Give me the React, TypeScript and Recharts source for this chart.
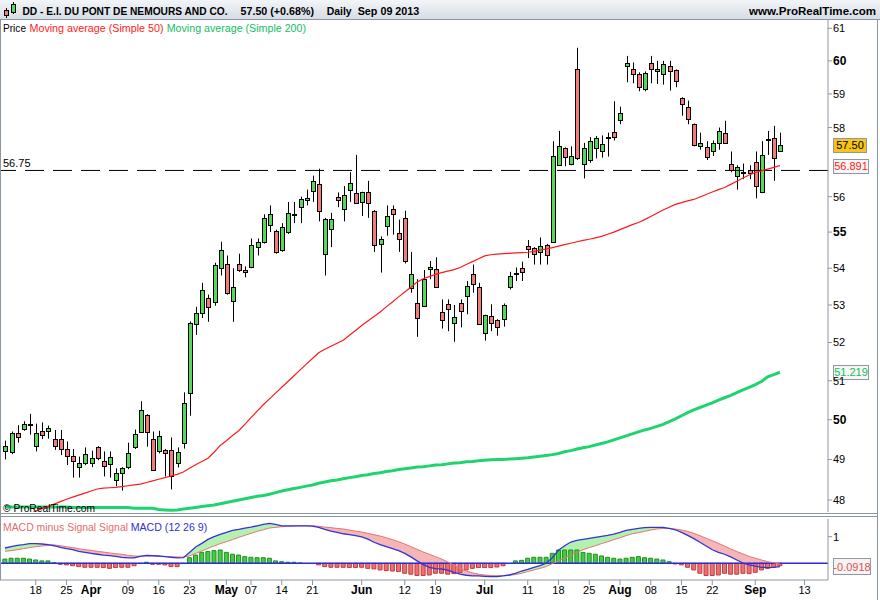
import React from "react";
import {
  Area,
  Bar,
  Cell,
  ComposedChart,
  Line,
  ReferenceLine,
  XAxis,
  YAxis,
} from "recharts";

const FONT = "'Liberation Sans', Arial, Helvetica, sans-serif";
const AXIS = "#8a96a2";
const UP = "#58d858";
const DOWN = "#f07c7c";

// daily sessions Mar 11 .. Sep 09 2013 (index = session number)
const opens = [
  49.21, 49.18, 49.67, 49.76, 49.88, 49.33, 49.72, 49.72, 49.52, 49.5,
  49.26, 49.09, 48.81, 48.91, 48.91, 49.31, 48.95, 48.88, 48.5, 48.66,
  48.81, 49.3, 49.7, 50.12, 49.52, 49.2, 49.23, 49.23, 48.91, 49.42,
  50.69, 52.5, 52.78, 53.2, 53.08, 54.0, 54.12, 53.1, 54.12, 53.95,
  54.03, 54.58, 54.72, 55.2, 55.02, 54.5, 55.0, 55.52, 55.7, 55.9,
  56.15, 56.35, 54.38, 55.08, 56.0, 55.65, 56.18, 56.1, 55.85, 56.12,
  55.6, 54.68, 55.18, 55.65, 54.97, 55.4, 53.45, 53.05, 52.97, 53.97,
  53.97, 52.8, 53.02, 52.53, 53.05, 53.25, 53.85, 53.5, 52.25, 52.7,
  52.6, 52.62, 53.5, 53.85, 54.0, 54.62, 54.56, 54.45, 54.65, 54.72,
  56.9, 57.4, 56.95, 59.75, 56.95, 57.05, 57.4, 57.3, 57.7, 57.88,
  58.22, 59.84, 59.75, 59.6, 59.15, 59.92, 59.7, 59.6, 59.85, 59.72,
  58.88, 58.6, 58.1, 57.45, 57.42, 57.32, 57.55, 57.85, 56.95, 56.6,
  56.68, 56.76, 57.0, 56.13, 57.65, 57.7, 57.32,
];
const highs = [
  49.47, 49.7, 49.86, 49.96, 50.15, 49.9, 49.93, 49.85, 49.74, 49.74,
  49.45, 49.26, 49.07, 49.3, 49.22, 49.33, 49.2, 49.2, 48.78, 48.81,
  49.42, 49.75, 50.47, 50.14, 49.7, 49.72, 49.26, 49.55, 49.3, 50.7,
  52.56, 52.95, 53.6, 53.28, 54.15, 54.73, 54.35, 54.0, 54.4, 54.05,
  54.82, 54.82, 55.5, 55.75, 55.07, 55.25, 55.85, 55.85, 56.0, 56.2,
  56.6, 56.8, 55.4, 55.54, 56.12, 56.3, 56.7, 57.2, 56.14, 56.45,
  55.62, 54.88, 55.75, 55.75, 55.35, 55.6, 54.45, 53.7, 53.95, 54.2,
  54.3, 53.15, 53.15, 53.0, 53.15, 53.65, 54.1, 53.6, 52.74, 53.02,
  52.62, 53.04, 53.9, 54.02, 54.18, 54.78, 54.58, 54.85, 54.67, 57.6,
  57.9, 57.42, 57.45, 60.4, 57.55, 57.72, 57.75, 57.77, 57.85, 58.78,
  58.62, 60.15, 59.95, 59.65, 59.68, 60.15, 60.0, 60.0, 60.0, 59.74,
  58.9, 58.8, 58.12, 57.85, 57.6, 57.62, 58.0, 58.2, 57.3, 56.9,
  56.95, 56.9, 57.3, 57.6, 57.9, 58.05, 57.85,
];
const lows = [
  49.0, 49.13, 49.42, 49.72, 49.62, 49.2, 49.51, 49.52, 49.24, 49.11,
  48.86, 48.55, 48.55, 48.86, 48.81, 48.98, 48.58, 48.55, 48.34, 48.23,
  48.76, 49.26, 49.68, 49.32, 48.72, 49.15, 48.58, 48.26, 48.8, 49.27,
  50.1, 52.2, 52.65, 52.55, 52.98, 53.8, 53.28, 52.55, 53.9, 53.75,
  54.0, 54.35, 54.68, 55.0, 54.4, 54.45, 54.95, 55.25, 55.25, 55.75,
  55.85, 55.3, 53.8, 54.58, 55.7, 55.3, 55.85, 55.8, 55.45, 55.4,
  54.45, 53.88, 54.9, 54.93, 54.45, 54.13, 53.33, 52.15, 52.95, 53.7,
  53.46, 52.37, 52.3, 52.02, 52.4, 52.75, 53.33, 52.48, 52.05, 52.3,
  52.18, 52.42, 53.42, 53.65, 53.65, 54.28, 54.1, 54.1, 54.1, 54.7,
  56.88, 56.87, 56.9, 57.05, 56.52, 56.97, 57.1, 57.12, 57.15, 57.62,
  58.1, 59.35, 59.32, 59.08, 59.08, 59.32, 59.3, 59.28, 59.1, 59.2,
  58.35, 58.1, 57.45, 57.35, 57.05, 57.17, 57.35, 57.53, 56.7, 56.2,
  56.5, 56.5, 55.95, 56.1, 57.2, 56.45, 57.3,
];
const closes = [
  49.34, 49.67, 49.56, 49.9, 49.89, 49.67, 49.62, 49.8, 49.33, 49.26,
  49.09, 48.95, 48.92, 49.14, 49.03, 49.03, 48.84, 49.05, 48.66, 48.78,
  49.15, 49.64, 50.24, 49.7, 48.75, 49.58, 49.15, 48.6, 49.18, 50.42,
  52.51, 52.78, 53.4, 52.95, 54.1, 54.5, 53.32, 53.5, 53.95, 53.9,
  54.65, 54.72, 55.4, 55.5, 54.45, 55.15, 55.55, 55.5, 55.92, 55.95,
  56.45, 55.6, 55.36, 55.36, 55.9, 56.05, 56.4, 55.83, 56.12, 55.83,
  54.65, 54.82, 55.45, 55.5, 54.8, 54.2, 53.85, 52.66, 53.7, 54.03,
  53.48, 52.6, 52.9, 52.68, 52.85, 53.52, 53.57, 52.5, 52.72, 52.52,
  52.4, 53.0, 53.78, 53.86, 53.9, 54.52, 54.4, 54.62, 54.35, 57.18,
  57.45, 57.15, 57.18, 57.1, 57.4, 57.6, 57.7, 57.52, 57.72, 57.72,
  58.43, 59.92, 59.6, 59.2, 59.62, 59.75, 59.75, 59.9, 59.7, 59.38,
  58.7, 58.25, 57.5, 57.55, 57.15, 57.55, 57.9, 57.55, 56.75, 56.85,
  56.7, 56.68, 56.3, 57.2, 57.66, 57.1, 57.5,
];

const sma50 = [
  null, null, null, null, 47.66, 47.73, 47.79, 47.84, 47.9, 47.96,
  48.02, 48.07, 48.12, 48.17, 48.22, 48.27, 48.29, 48.3, 48.31, 48.33,
  48.35, 48.37, 48.39, 48.43, 48.47, 48.51, 48.55, 48.59, 48.63, 48.69,
  48.78, 48.87, 48.95, 49.03, 49.18, 49.35, 49.47, 49.6, 49.72, 49.88,
  50.05, 50.22, 50.38, 50.53, 50.68, 50.83, 50.98, 51.13, 51.28, 51.43,
  51.58, 51.73, 51.82, 51.9, 51.98, 52.06, 52.19, 52.32, 52.45, 52.57,
  52.69, 52.81, 52.95, 53.08, 53.22, 53.35, 53.48, 53.62, 53.71, 53.77,
  53.83, 53.88, 53.92, 53.96, 54.02, 54.1, 54.18, 54.26, 54.34, 54.37,
  54.39, 54.4, 54.41, 54.42, 54.43, 54.44, 54.46, 54.5, 54.53, 54.57,
  54.61, 54.65, 54.69, 54.73, 54.77, 54.8, 54.84, 54.88, 54.94, 55.0,
  55.07, 55.14, 55.21, 55.27, 55.35, 55.44, 55.53, 55.62, 55.7, 55.78,
  55.83, 55.88, 55.92, 55.99, 56.06, 56.13, 56.2, 56.26, 56.35, 56.44,
  56.53, 56.62, 56.69, 56.74, 56.79, 56.84, 56.891,
];
const sma200 = [
  47.83, 47.83, 47.83, 47.83, 47.83, 47.83, 47.83, 47.83, 47.83, 47.83,
  47.83, 47.82, 47.82, 47.82, 47.82, 47.82, 47.82, 47.82, 47.82, 47.82,
  47.82, 47.8, 47.8, 47.8, 47.8, 47.77, 47.76, 47.75, 47.76, 47.78,
  47.8, 47.82, 47.84, 47.86, 47.88, 47.91, 47.94, 47.97, 48.0, 48.03,
  48.06, 48.09, 48.11, 48.14, 48.18, 48.22, 48.25, 48.28, 48.31, 48.34,
  48.37, 48.41, 48.44, 48.47, 48.49, 48.52, 48.55, 48.57, 48.6, 48.62,
  48.65, 48.67, 48.7, 48.72, 48.75, 48.77, 48.79, 48.81, 48.82, 48.84,
  48.86, 48.87, 48.89, 48.91, 48.92, 48.94, 48.95, 48.97, 48.98, 48.99,
  49.0, 49.0, 49.01, 49.02, 49.03, 49.04, 49.06, 49.08, 49.1, 49.12,
  49.15, 49.19, 49.22, 49.26, 49.29, 49.32, 49.36, 49.4, 49.44, 49.49,
  49.54, 49.59, 49.64, 49.69, 49.74, 49.78, 49.83, 49.88, 49.95, 50.02,
  50.1, 50.18, 50.25, 50.31, 50.37, 50.43, 50.5, 50.56, 50.62, 50.69,
  50.76, 50.83, 50.9, 50.98, 51.1, 51.16, 51.219,
];

const macdLine = [
  0.575, 0.625, 0.675, 0.7, 0.74, 0.74, 0.725, 0.7, 0.66, 0.6,
  0.55, 0.51, 0.45, 0.41, 0.375, 0.34, 0.31, 0.29, 0.26, 0.225,
  0.2, 0.2, 0.26, 0.3, 0.29, 0.275, 0.25, 0.225, 0.2, 0.21,
  0.41, 0.61, 0.75, 0.9, 1.0, 1.09, 1.16, 1.24, 1.275, 1.325,
  1.36, 1.41, 1.46, 1.5, 1.46, 1.41, 1.41, 1.41, 1.41, 1.41,
  1.4, 1.35, 1.275, 1.21, 1.16, 1.11, 1.075, 1.04, 0.99, 0.91,
  0.79, 0.7, 0.625, 0.55, 0.475, 0.375, 0.24, 0.09, -0.05, -0.15,
  -0.2, -0.215, -0.26, -0.34, -0.41, -0.45, -0.475, -0.475, -0.49, -0.5,
  -0.5, -0.475, -0.44, -0.375, -0.29, -0.225, -0.15, -0.09, 0.0, 0.21,
  0.49, 0.66, 0.8, 0.86, 0.9, 0.94, 0.975, 1.01, 1.05, 1.1,
  1.16, 1.24, 1.275, 1.31, 1.34, 1.35, 1.35, 1.35, 1.31, 1.26,
  1.16, 1.05, 0.925, 0.79, 0.65, 0.51, 0.41, 0.34, 0.24, 0.125,
  0.01, -0.06, -0.11, -0.15, -0.16, -0.15, -0.125,
];
const signalLine = [
  0.45, 0.475, 0.51, 0.55, 0.59, 0.625, 0.65, 0.675, 0.69, 0.66,
  0.625, 0.59, 0.55, 0.51, 0.49, 0.45, 0.425, 0.39, 0.36, 0.34,
  0.3, 0.275, 0.27, 0.27, 0.27, 0.26, 0.26, 0.25, 0.24, 0.23,
  0.275, 0.375, 0.46, 0.56, 0.65, 0.74, 0.81, 0.89, 0.975, 1.05,
  1.125, 1.2, 1.26, 1.325, 1.35, 1.375, 1.39, 1.4, 1.41, 1.41,
  1.41, 1.39, 1.36, 1.34, 1.31, 1.29, 1.25, 1.21, 1.175, 1.125,
  1.075, 1.025, 0.96, 0.89, 0.81, 0.725, 0.625, 0.525, 0.425, 0.34,
  0.25, 0.16, 0.05, -0.075, -0.19, -0.29, -0.36, -0.41, -0.44, -0.46,
  -0.47, -0.46, -0.45, -0.425, -0.375, -0.31, -0.25, -0.19, -0.125, -0.01,
  0.09, 0.21, 0.31, 0.41, 0.51, 0.59, 0.66, 0.74, 0.81, 0.89,
  0.96, 1.04, 1.11, 1.15, 1.2, 1.25, 1.29, 1.31, 1.31, 1.29,
  1.25, 1.2, 1.125, 1.04, 0.94, 0.85, 0.75, 0.65, 0.54, 0.44,
  0.35, 0.26, 0.19, 0.125, 0.06, 0.025, -0.03,
];
const macdHist = [
  0.16, 0.19, 0.19, 0.19, 0.16, 0.125, 0.09, 0.09, 0.02, -0.04,
  -0.06, -0.09, -0.125, -0.15, -0.15, -0.15, -0.16, -0.19, -0.16, -0.15,
  -0.15, -0.09, -0.01, 0.04, -0.04, -0.04, -0.06, -0.125, -0.125, -0.01,
  0.21, 0.31, 0.41, 0.44, 0.475, 0.5, 0.41, 0.34, 0.31, 0.25,
  0.225, 0.21, 0.21, 0.19, 0.09, 0.06, 0.04, 0.04, 0.01, 0.0,
  0.0, -0.06, -0.125, -0.15, -0.15, -0.15, -0.16, -0.16, -0.15, -0.19,
  -0.21, -0.25, -0.275, -0.29, -0.31, -0.375, -0.41, -0.46, -0.46, -0.44,
  -0.375, -0.375, -0.41, -0.39, -0.34, -0.25, -0.19, -0.16, -0.16, -0.16,
  -0.14, -0.09, 0.0, 0.09, 0.11, 0.19, 0.225, 0.225, 0.225, 0.375,
  0.5, 0.5, 0.5, 0.5, 0.41, 0.375, 0.34, 0.275, 0.225, 0.19,
  0.16, 0.19, 0.225, 0.25, 0.21, 0.19, 0.16, 0.125, 0.06, -0.025,
  -0.06, -0.15, -0.25, -0.375, -0.46, -0.46, -0.44, -0.375, -0.41, -0.41,
  -0.375, -0.39, -0.34, -0.25, -0.19, -0.15, -0.0918,
];

const dateTicks = [5, 10, 14, 20, 25, 30, 36, 40, 45, 50, 58, 65, 70, 78, 85, 90, 95, 100, 105, 110, 115, 122, 130];
const dateLabels = ["18", "25", "Apr", "09", "16", "23", "May", "07", "14", "21", "Jun", "12", "19", "Jul", "11", "18", "25", "Aug", "08", "15", "22", "Sep", "13"];
const priceTicks = [48, 49, 50, 51, 52, 53, 54, 55, 56, 58, 59, 60, 61];
const boldPrices = [50, 55, 60];
const macdTicks = [1];
const alertLevel = 56.75;

const X_DOMAIN: [number, number] = [-0.81, 133.82];
const PRICE_DOMAIN: [number, number] = [47.709, 61.289];
const MACD_DOMAIN: [number, number] = [-0.628, 1.665];

const last = closes.length - 1;

const candles = closes.map((c, i) => ({
  i,
  o: opens[i],
  h: highs[i],
  l: lows[i],
  c,
  range: [lows[i], highs[i]],
  ma50: sma50[i],
  ma200: sma200[i],
}));

const macdRows = macdLine.map((m, i) => {
  const s = signalLine[i];
  return {
    i,
    macd: m,
    signal: s,
    hist: macdHist[i],
    above: [s, Math.max(m, s)],
    below: [Math.min(m, s), s],
  };
});

function Candle(props: any) {
  const { x, y, width, height, payload } = props;
  if (!payload || !Number.isFinite(y) || !Number.isFinite(height)) return null;
  const { o, h, l, c } = payload;
  const span = Math.log(h) - Math.log(l);
  // position inside the high/low bar that the y scale produced
  const at = (v: number) => y + (height * (Math.log(h) - Math.log(v))) / span;
  const cx = Math.round(x + width / 2) + 0.5;
  const top = Math.round(at(Math.max(o, c))) + 0.5;
  const bot = Math.round(at(Math.min(o, c))) + 0.5;
  const flat = Math.abs(c - o) < 0.025;
  return (
    <g>
      <line x1={cx} x2={cx} y1={y} y2={y + height} stroke="#000" />
      {flat ? (
        <rect x={cx - 2} y={top} width={4} height={1} fill="#000" stroke="#000" />
      ) : (
        <rect
          x={cx - 2}
          y={top}
          width={4}
          height={Math.max(bot - top, 1)}
          fill={c > o ? UP : DOWN}
          stroke="#000"
        />
      )}
    </g>
  );
}

function Tag(props: any) {
  const { viewBox, text, bg, color, w, h = 14 } = props;
  if (!viewBox) return null;
  const left = Math.round(viewBox.x + viewBox.width + 5) + 0.5;
  const top = Math.round(viewBox.y - h / 2) + 0.5;
  return (
    <g>
      <rect x={left} y={top} width={w} height={h} fill={bg} stroke="#8d98a3" />
      <text
        x={left + w / 2}
        y={top + h - 3.5}
        textAnchor="middle"
        fontSize={11}
        fill={color}
        fontFamily={FONT}
      >
        {text}
      </text>
    </g>
  );
}

function AlertLabel(props: any) {
  const { viewBox } = props;
  if (!viewBox) return null;
  return (
    <text x={viewBox.x + 3} y={viewBox.y - 3} fontSize={11} fill="#000" fontFamily={FONT}>
      {alertLevel.toFixed(2)}
    </text>
  );
}

function ValueTick(props: any) {
  const { x, y, payload } = props;
  const bold = boldPrices.includes(payload.value);
  return (
    <text
      x={x}
      y={y + 4}
      textAnchor="start"
      fontSize={bold ? 12 : 11}
      fontWeight={bold ? 700 : 400}
      fill="#000"
      fontFamily={FONT}
    >
      {payload.value}
    </text>
  );
}

function DateTick(props: any) {
  const { x, y, payload } = props;
  const text = dateLabels[dateTicks.indexOf(payload.value)];
  const month = /^[A-Z]/.test(text);
  return (
    <text
      x={x}
      y={y + 8}
      textAnchor="middle"
      fontSize={month ? 12 : 11}
      fontWeight={month ? 700 : 400}
      fill="#000"
      fontFamily={FONT}
    >
      {text}
    </text>
  );
}

export default function App() {
  return (
    <div
      style={{
        position: "absolute",
        left: 0,
        top: 0,
        width: 880,
        height: 600,
        background: "#fff",
        overflow: "hidden",
        fontFamily: FONT,
      }}
    >
      <div style={{ position: "absolute", left: 0, top: 19 }}>
        <ComposedChart
          width={880}
          height={494}
          data={candles}
          margin={{ top: 0, right: 0, bottom: 1, left: 0 }}
        >
          <XAxis dataKey="i" type="number" domain={X_DOMAIN} allowDataOverflow hide />
          <YAxis
            orientation="right"
            width={52}
            type="number"
            scale="log"
            domain={PRICE_DOMAIN}
            allowDataOverflow
            ticks={priceTicks}
            interval={0}
            tick={<ValueTick />}
            tickSize={4}
            tickMargin={1}
            tickLine={{ stroke: AXIS }}
            axisLine={{ stroke: AXIS }}
          />
          <ReferenceLine
            y={alertLevel}
            stroke="#000"
            strokeDasharray="19 9"
            label={<AlertLabel />}
          />
          <Bar dataKey="range" barSize={5} isAnimationActive={false} shape={<Candle />} />
          <Line
            dataKey="ma200"
            type="linear"
            stroke="#1fd36f"
            strokeWidth={3}
            dot={false}
            isAnimationActive={false}
          />
          <Line
            dataKey="ma50"
            type="linear"
            stroke="#ff1a1a"
            strokeWidth={1.2}
            dot={false}
            isAnimationActive={false}
          />
          <ReferenceLine
            y={closes[last]}
            stroke="none"
            label={<Tag text={closes[last].toFixed(2)} bg="#f7c515" color="#000" w={33} />}
          />
          <ReferenceLine
            y={sma50[last] as number}
            stroke="none"
            label={<Tag text={(sma50[last] as number).toFixed(3)} bg="#f6f6f6" color="#ff1a1a" w={35} />}
          />
          <ReferenceLine
            y={sma200[last]}
            stroke="none"
            label={<Tag text={sma200[last].toFixed(3)} bg="#f6f6f6" color="#12c060" w={35} />}
          />
        </ComposedChart>
      </div>

      <div style={{ position: "absolute", left: 0, top: 517 }}>
        <ComposedChart
          width={880}
          height={83}
          data={macdRows}
          margin={{ top: 2, right: 0, bottom: 0, left: 0 }}
        >
          <XAxis
            dataKey="i"
            type="number"
            domain={X_DOMAIN}
            allowDataOverflow
            ticks={dateTicks}
            interval={0}
            tick={<DateTick />}
            height={20}
            tickSize={5}
            tickMargin={1}
            tickLine={{ stroke: AXIS }}
            axisLine={{ stroke: AXIS }}
          />
          <YAxis
            orientation="right"
            width={52}
            type="number"
            domain={MACD_DOMAIN}
            allowDataOverflow
            ticks={macdTicks}
            interval={0}
            tick={<ValueTick />}
            tickSize={4}
            tickMargin={1}
            tickLine={{ stroke: AXIS }}
            axisLine={{ stroke: AXIS }}
          />
          <Area
            dataKey="above"
            type="linear"
            stroke="none"
            fill="#b4f0b0"
            fillOpacity={1}
            isAnimationActive={false}
          />
          <Area
            dataKey="below"
            type="linear"
            stroke="none"
            fill="#f4b6b6"
            fillOpacity={1}
            isAnimationActive={false}
          />
          <Bar dataKey="hist" barSize={4} isAnimationActive={false}>
            {macdRows.map((r) => (
              <Cell
                key={r.i}
                fill={r.hist >= 0 ? "#44cc44" : "#ee6f6f"}
                stroke={r.hist >= 0 ? "#1f8f1f" : "#c03c3c"}
              />
            ))}
          </Bar>
          <ReferenceLine y={0} stroke="#2b2bdc" strokeWidth={1.5} />
          <Line
            dataKey="signal"
            type="linear"
            stroke="#e57575"
            strokeWidth={1}
            dot={false}
            isAnimationActive={false}
          />
          <Line
            dataKey="macd"
            type="linear"
            stroke="#3434d6"
            strokeWidth={1.3}
            dot={false}
            isAnimationActive={false}
          />
          <ReferenceLine
            y={macdHist[last]}
            stroke="none"
            label={<Tag text={macdHist[last].toFixed(4)} bg="#f4f4f4" color="#e05050" w={37} h={16} />}
          />
        </ComposedChart>
      </div>

      <svg
        width={880}
        height={600}
        style={{ position: "absolute", left: 0, top: 0, pointerEvents: "none" }}
        fontFamily={FONT}
      >
        <defs>
          <linearGradient id="hdr" x1="0" y1="0" x2="0" y2="1">
            <stop offset="0" stopColor="#f2f5f8" />
            <stop offset="1" stopColor="#d6dde5" />
          </linearGradient>
        </defs>
        <rect x={0} y={0} width={880} height={19} fill="url(#hdr)" />
        <line x1={0} x2={880} y1={19.5} y2={19.5} stroke={AXIS} />
        {/* little candle icon */}
        <line x1={6.5} x2={6.5} y1={8} y2={18} stroke="#000" />
        <rect x={4.5} y={10.5} width={4} height={5} fill={DOWN} stroke="#000" />
        <line x1={13.5} x2={13.5} y1={2} y2={14} stroke="#000" />
        <rect x={11.5} y={4.5} width={4} height={8} fill={UP} stroke="#000" />
        <text x={22.5} y={15} fontSize={11} fontWeight={700} textLength={205} lengthAdjust="spacingAndGlyphs">
          DD - E.I. DU PONT DE NEMOURS AND CO.
        </text>
        <text x={240.5} y={15} fontSize={11} fontWeight={700} textLength={73.5} lengthAdjust="spacingAndGlyphs">
          57.50 (+0.68%)
        </text>
        <text x={326.7} y={15} fontSize={11} fontWeight={700} textLength={25} lengthAdjust="spacingAndGlyphs">
          Daily
        </text>
        <text x={357.7} y={15} fontSize={11} fontWeight={700} textLength={61.6} lengthAdjust="spacingAndGlyphs">
          Sep 09 2013
        </text>
        <text x={749} y={15} fontSize={11} fontWeight={700} textLength={127} lengthAdjust="spacingAndGlyphs">
          www.ProRealTime.com
        </text>

        <text x={3} y={32} fontSize={11} fill="#000" textLength={23} lengthAdjust="spacingAndGlyphs">
          Price
        </text>
        <text x={29.5} y={32} fontSize={11} fill="#ff1a1a" textLength={134} lengthAdjust="spacingAndGlyphs">
          Moving average (Simple 50)
        </text>
        <text x={166.7} y={32} fontSize={11} fill="#12c060" textLength={139.3} lengthAdjust="spacingAndGlyphs">
          Moving average (Simple 200)
        </text>
        <text x={3} y={512} fontSize={11} fill="#000" textLength={92} lengthAdjust="spacingAndGlyphs">
          © ProRealTime.com
        </text>
        <text x={3} y={531} fontSize={11} fill="#e86c6c" textLength={125} lengthAdjust="spacingAndGlyphs">
          MACD minus Signal Signal
        </text>
        <text x={130.7} y={531} fontSize={11} fill="#3030d0" textLength={76.6} lengthAdjust="spacingAndGlyphs">
          MACD (12 26 9)
        </text>

        <line x1={0.5} x2={0.5} y1={19} y2={580} stroke={AXIS} />
        <line x1={0} x2={878} y1={513.5} y2={513.5} stroke={AXIS} />
        <line x1={0} x2={878} y1={516.5} y2={516.5} stroke={AXIS} />
        <line x1={877.5} x2={877.5} y1={19} y2={600} stroke={AXIS} />
      </svg>
    </div>
  );
}
